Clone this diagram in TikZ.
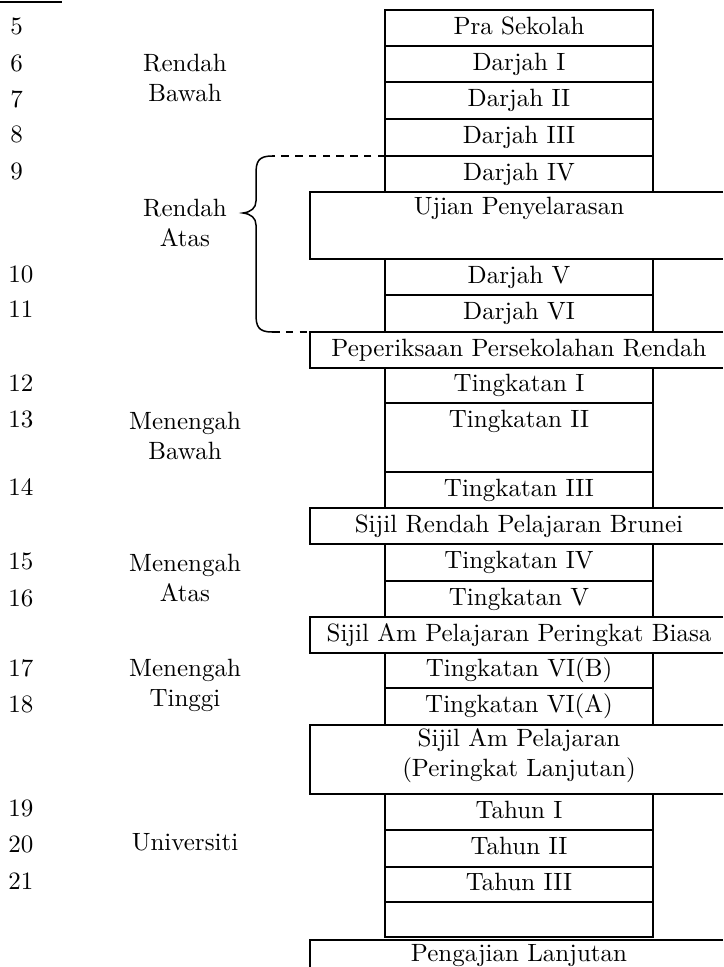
\documentclass[tikz,border=0pt]{standalone}
\begin{document}
\begin{tikzpicture}[x=0.4pt,y=-0.4pt,
    box/.style={line width=0.6pt},
    gapline/.style={line width=0.6pt,dash pattern=on 3pt off 2.5pt},
    age/.style={anchor=west,inner sep=0pt},
    level/.style={align=center,inner sep=0pt},
    entry/.style={inner sep=0pt,text height=7pt,text depth=2pt}]

    \useasboundingbox (0,0) rectangle (723,967);

    \draw[line width = 0.6pt] (0,2) -- (62,2);

    % Ages
    \node[age] (a5) at (10,26) {5};
    \node[age] (a6) at (10,63) {6};
    \node[age] (a7) at (10,99) {7};
    \node[age] (a8) at (10,134) {8};
    \node[age] (a9) at (10,171) {9};
    \node[age] (a10) at (8,274) {10};
    \node[age] (a11) at (8,309) {11};
    \node[age] (a12) at (8,383) {12};
    \node[age] (a13) at (8,419) {13};
    \node[age] (a14) at (8,487) {14};
    \node[age] (a15) at (8,561) {15};
    \node[age] (a16) at (8,598) {16};
    \node[age] (a17) at (8,668) {17};
    \node[age] (a18) at (8,704) {18};
    \node[age] (a19) at (8,808) {19};
    \node[age] (a20) at (8,844) {20};
    \node[age] (a21) at (8,881) {21};

    % Levels
    \node[level] (rbawah) at (185,78) {Rendah\\Bawah};
    \node[level] (ratas) at (185,223) {Rendah\\Atas};
    \node[level] (mbawah) at (185,436) {Menengah\\Bawah};
    \node[level] (matas) at (185,578) {Menengah\\Atas};
    \node[level] (mtinggi) at (185,685) {Menengah\\Tinggi};
    \node[level] (univ) at (185,842) {Universiti};

    % Narrow boxes
    \draw[box] (385,10) rectangle (653,46);
    \draw[box] (385,46) rectangle (653,82);
    \draw[box] (385,82) rectangle (653,119);
    \draw[box] (385,119) rectangle (653,156);
    \draw[box] (385,156) rectangle (653,192);
    \draw[box] (385,259) rectangle (653,295);
    \draw[box] (385,295) rectangle (653,332);
    \draw[box] (385,368) rectangle (653,403);
    \draw[box] (385,403) rectangle (653,472);
    \draw[box] (385,472) rectangle (653,508);
    \draw[box] (385,544) rectangle (653,581);
    \draw[box] (385,581) rectangle (653,617);
    \draw[box] (385,653) rectangle (653,688);
    \draw[box] (385,688) rectangle (653,725);
    \draw[box] (385,794) rectangle (653,830);
    \draw[box] (385,830) rectangle (653,867);
    \draw[box] (385,867) rectangle (653,902);
    \draw[box] (385,902) rectangle (653,937);

    % Wide boxes, running off the right edge
    \draw[box] (723,192) -| (310,259) -- (723,259);
    \draw[box] (723,332) -| (310,368) -- (723,368);
    \draw[box] (723,508) -| (310,544) -- (723,544);
    \draw[box] (723,617) -| (310,653) -- (723,653);
    \draw[box] (723,725) -| (310,794) -- (723,794);
    \draw[box] (723,940) -| (310,967);

    % Box texts
    \node[entry] (pra) at (519,28) {Pra Sekolah};
    \node[entry] (dI) at (519,64) {Darjah I};
    \node[entry] (dII) at (519,100) {Darjah II};
    \node[entry] (dIII) at (519,137) {Darjah III};
    \node[entry] (dIV) at (519,174) {Darjah IV};
    \node[entry] (ujian) at (519,208) {Ujian Penyelarasan};
    \node[entry] (dV) at (519,277) {Darjah V};
    \node[entry] (dVI) at (519,313) {Darjah VI};
    \node[entry] (ppr) at (519,350) {Peperiksaan Persekolahan Rendah};
    \node[entry] (tI) at (519,385) {Tingkatan I};
    \node[entry] (tII) at (519,421) {Tingkatan II};
    \node[entry] (tIII) at (519,490) {Tingkatan III};
    \node[entry] (srpb) at (519,526) {Sijil Rendah Pelajaran Brunei};
    \node[entry] (tIV) at (519,562) {Tingkatan IV};
    \node[entry] (tV) at (519,599) {Tingkatan V};
    \node[entry] (sapb) at (519,635) {Sijil Am Pelajaran Peringkat Biasa};
    \node[entry] (tVIB) at (519,670) {Tingkatan VI(B)};
    \node[entry] (tVIA) at (519,706) {Tingkatan VI(A)};
    \node[level] (sapl) at (519,756) {Sijil Am Pelajaran\\(Peringkat Lanjutan)};
    \node[entry] (thI) at (519,812) {Tahun I};
    \node[entry] (thII) at (519,848) {Tahun II};
    \node[entry] (thIII) at (519,884) {Tahun III};
    \node[entry] (lanjutan) at (519,955) {Pengajian Lanjutan};

    % Brace for Rendah Atas
    \coordinate (btop) at (272,156);
    \coordinate (bbot) at (272,332);
    \coordinate (dIVw) at (385,156);
    \coordinate (pprw) at (310,332);
    \draw[gapline] (dIVw) -- (btop);
    \draw[gapline] (bbot) -- (pprw);
    \draw[line width = 0.6pt] (btop) .. controls (258,156) and (256,162) .. (256,174)
        -- (256,201) .. controls (256,208) and (251,212) .. (243,213)
        .. controls (251,214) and (256,218) .. (256,225)
        -- (256,314) .. controls (256,326) and (258,332) .. (bbot);

\end{tikzpicture}
\end{document}
